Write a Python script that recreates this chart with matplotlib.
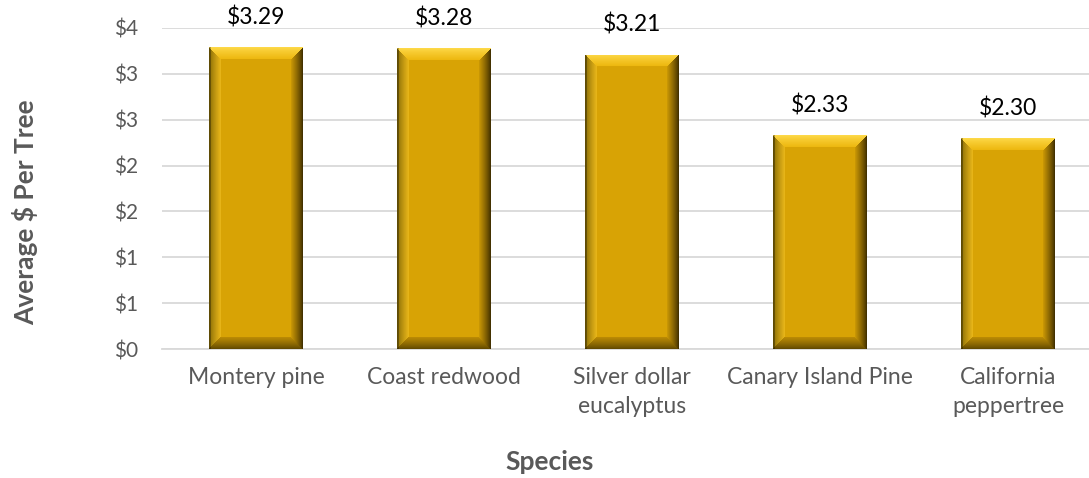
import numpy as np
import matplotlib
matplotlib.use("Agg")
import matplotlib.pyplot as plt
from matplotlib.ticker import FuncFormatter, MultipleLocator

species = ["Montery pine", "Coast redwood", "Silver dollar\neucalyptus",
           "Canary Island Pine", "California\npeppertree"]
avg_cost = [3.29, 3.28, 3.21, 2.33, 2.30]

FIG_W, FIG_H, DPI = 1089, 478, 100
plt.rcParams["font.family"] = ["Lato", "DejaVu Sans"]

fig = plt.figure(figsize=(FIG_W / DPI, FIG_H / DPI), dpi=DPI)
left_px, right_px, top_px, bottom_px = 162, 1089, 28, 349
ax = fig.add_axes([left_px / FIG_W, 1 - bottom_px / FIG_H,
                   (right_px - left_px) / FIG_W, (bottom_px - top_px) / FIG_H])

slot_px = 188.0
x = np.arange(len(species))
ax.set_xlim(-0.5, -0.5 + (right_px - left_px) / slot_px)
ax.set_ylim(0, 3.5)

bar_w = 0.5
face = np.array([0.85, 0.64, 0.02])


def bevel_image(w_px, h_px, b=12):
    """RGB image of a bevelled bar face with w_px x h_px pixels."""
    w_px, h_px = max(int(round(w_px)), 2), max(int(round(h_px)), 2)
    xx, yy = np.meshgrid(np.arange(w_px) + 0.5, np.arange(h_px) + 0.5)
    dl, dr = xx, w_px - xx
    dt, db = yy, h_px - yy
    d = np.stack([dt, dr, db, dl])
    region = np.argmin(d, axis=0)
    dmin = np.min(d, axis=0)
    t = np.clip(dmin / b, 0, 1)[..., None]
    img = np.tile(face, (h_px, w_px, 1))

    top_edge = np.array([1.0, 0.86, 0.30])
    top_in = np.array([0.93, 0.72, 0.06])
    right_edge = np.array([0.22, 0.16, 0.0])
    right_in = np.array([0.80, 0.60, 0.02])
    bot_edge = np.array([0.36, 0.27, 0.0])
    bot_in = np.array([0.74, 0.55, 0.02])
    left_edge = np.array([0.50, 0.40, 0.02])
    left_in = np.array([0.92, 0.72, 0.10])

    tt = t ** 0.8
    cols = {
        0: top_edge * (1 - tt) + top_in * tt,
        1: right_edge * (1 - tt) + right_in * tt,
        2: bot_edge * (1 - tt) + bot_in * tt,
        3: left_edge * (1 - tt) + left_in * tt,
    }
    inside = dmin < b
    for k, c in cols.items():
        m = (region == k) & inside
        img[m] = c[m]
    # thin dark rim on the left edge
    img[:, :2] = img[:, :2] * 0.7
    return np.clip(img, 0, 1)


bars = ax.bar(x, avg_cost, width=bar_w, color=face, zorder=2)
px_per_unit = (bottom_px - top_px) / 3.5
for rect, val in zip(bars, avg_cost):
    x0, w = rect.get_x(), rect.get_width()
    img = bevel_image(w * slot_px, val * px_per_unit)
    im = ax.imshow(img, extent=(x0, x0 + w, 0, val), aspect="auto",
                   interpolation="bilinear", zorder=3)
    im.set_clip_path(rect)
    ax.annotate(f"${val:.2f}", (rect.get_x() + w / 2, val),
                xytext=(0, 21.5), textcoords="offset points",
                ha="center", va="center", fontsize=16.5, color="black",
                zorder=4)

ax.yaxis.set_major_locator(MultipleLocator(0.5))
ax.yaxis.set_major_formatter(FuncFormatter(lambda v, _: f"${int(np.floor(v + 0.5))}"))
ax.grid(axis="y", color="#D9D9D9", linewidth=1.3, zorder=0)
ax.set_axisbelow(True)
for s in ["top", "right", "left"]:
    ax.spines[s].set_visible(False)
ax.spines["bottom"].set_color("#D9D9D9")
ax.spines["bottom"].set_linewidth(1.3)

ax.set_xticks(x)
ax.set_xticklabels(species, fontsize=16.5, color="#595959", linespacing=1.45)
ax.tick_params(axis="x", length=0, pad=13)
ax.tick_params(axis="y", length=0, pad=17, labelsize=15, labelcolor="#595959")

fig.text(25 / FIG_W, 1 - 212 / FIG_H, "Average $ Per Tree", rotation=90,
         ha="center", va="center", fontsize=19, fontweight="bold", color="#595959")
fig.text(550 / FIG_W, 1 - 462 / FIG_H, "Species", ha="center", va="center",
         fontsize=19, fontweight="bold", color="#595959")

fig.savefig("out.png", dpi=DPI)
